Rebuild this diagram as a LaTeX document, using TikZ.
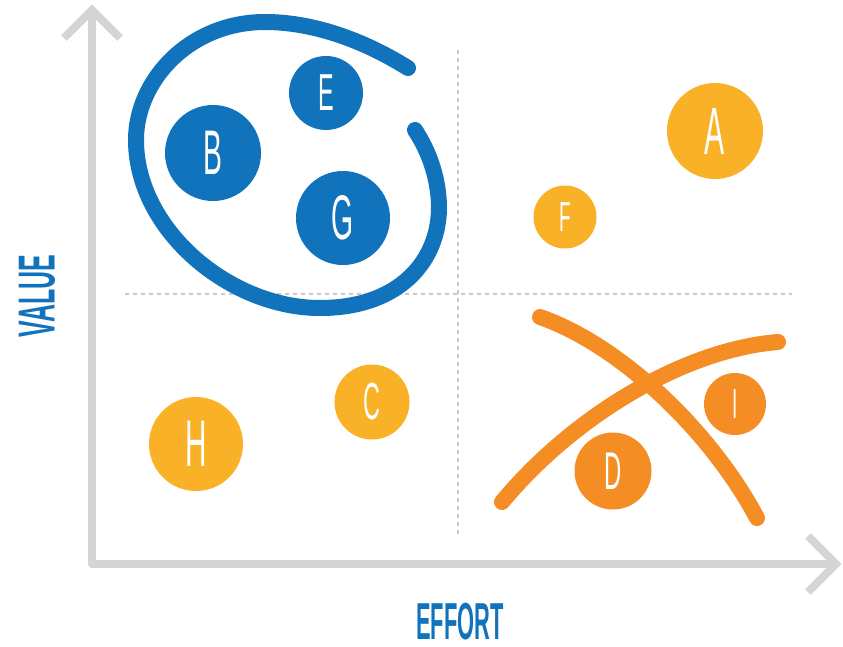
\documentclass[tikz,border=0pt]{standalone}
\usepackage{fontspec}
\setmainfont{Liberation Sans}
\usepackage{graphicx}
\definecolor{mblue}{RGB}{17,115,187}
\definecolor{myellow}{RGB}{249,177,40}
\definecolor{morange}{RGB}{245,141,37}
\definecolor{axisgray}{RGB}{212,213,214}
\definecolor{dotgray}{RGB}{200,200,200}
\newcommand\condtxt[3]{\fontsize{#1}{#1}\selectfont\scalebox{#2}[1]{#3}}
\begin{document}
\begin{tikzpicture}[x=1pt,y=-1pt,
  item/.style={circle,inner sep=0pt,text=white},
  axisline/.style={draw=axisgray,line width=8pt},
  guide/.style={draw=dotgray,line width=2pt,dash pattern=on 4pt off 4pt},
  band/.style={line width=16pt,line cap=round},
  axislabel/.style={text=mblue,inner sep=0pt,font=\bfseries}]
\useasboundingbox[fill=white] (0,0) rectangle (843,646);
% guides
\coordinate (vtop) at (458,50);
\coordinate (vbot) at (458,535);
\coordinate (hl) at (125,294);
\coordinate (hr) at (792,294);
\draw[guide] (vtop) -- (vbot);
\draw[guide] (hl) -- (hr);
% axes
\coordinate (O) at (92,564);
\coordinate (Ytip) at (92,10);
\coordinate (Xtip) at (836,564);
\draw[axisline,line join=round] (Ytip) -- (O) -- (Xtip);
\draw[axisline,line join=miter] (64,38) -- (Ytip) -- (120,38);
\draw[axisline,line join=miter] (808,536) -- (Xtip) -- (808,592);
% labels
\node[axislabel,rotate=90] (value) at (37,296) {\condtxt{52}{0.48}{VALUE}};
\node[axislabel] (effort) at (460,622) {\condtxt{52}{0.42}{EFFORT}};
% blue group
\draw[band,mblue] (408,68) .. controls (360,38) and (310,22) .. (265,22)
  .. controls (190,22) and (136,80) .. (136,140)
  .. controls (136,230) and (230,308) .. (320,308)
  .. controls (400,308) and (440,260) .. (439,205)
  .. controls (438,175) and (428,150) .. (415,130);
\node[item,fill=mblue,minimum size=96pt] (B) at (213,153) {\condtxt{63}{0.45}{B}};
\node[item,fill=mblue,minimum size=74pt] (E) at (326,93) {\condtxt{52}{0.45}{E}};
\node[item,fill=mblue,minimum size=94pt] (G) at (343,218) {\condtxt{63}{0.45}{G}};
% yellow items
\node[item,fill=myellow,minimum size=96pt] (A) at (715,131) {\condtxt{67}{0.45}{A}};
\node[item,fill=myellow,minimum size=63pt] (F) at (565,217) {\condtxt{42}{0.45}{F}};
\node[item,fill=myellow,minimum size=75pt] (C) at (372,402) {\condtxt{52}{0.45}{C}};
\node[item,fill=myellow,minimum size=94pt] (H) at (196,444) {\condtxt{66}{0.45}{H}};
% orange cross
\draw[band,morange] (540,317) .. controls (620,345) and (710,430) .. (757,518);
\draw[band,morange] (502,502) .. controls (570,420) and (680,350) .. (778,342);
\node[item,fill=morange,minimum size=77pt] (D) at (613,471) {\condtxt{53}{0.45}{D}};
\node[item,fill=morange,minimum size=62pt] (I) at (735,404) {\condtxt{42}{0.45}{I}};
\end{tikzpicture}
\end{document}
